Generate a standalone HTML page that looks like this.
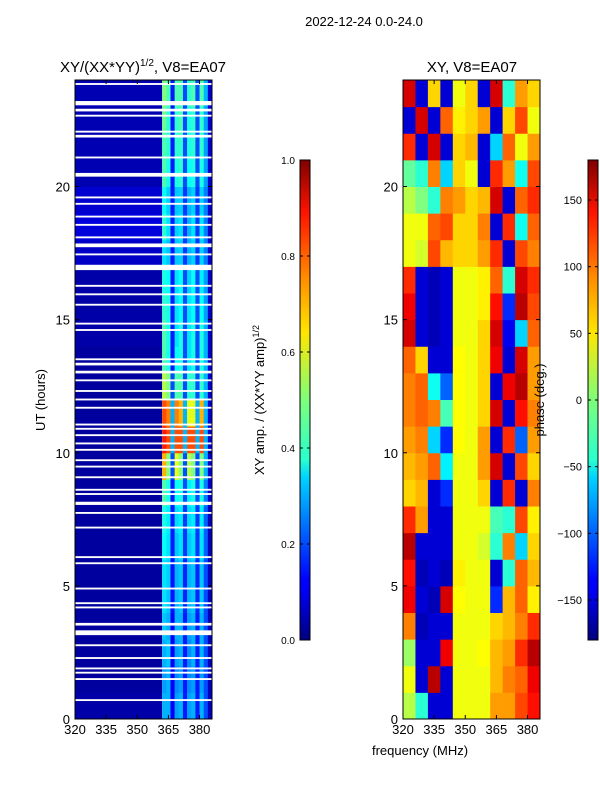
<!DOCTYPE html>
<html><head><meta charset="utf-8">
<style>
body{margin:0;background:#fff;}
svg text{font-family:"Liberation Sans",sans-serif;}
</style></head>
<body>
<svg id="fig" width="600" height="800" viewBox="0 0 600 800" xmlns="http://www.w3.org/2000/svg">
<defs>
<linearGradient id="jet" x1="0" y1="1" x2="0" y2="0">
<stop offset="0" stop-color="#00007f"/><stop offset="0.11" stop-color="#0000ff"/>
<stop offset="0.125" stop-color="#0000ff"/><stop offset="0.34" stop-color="#00d4ff"/>
<stop offset="0.375" stop-color="#29ffce"/><stop offset="0.5" stop-color="#7dff7a"/>
<stop offset="0.64" stop-color="#ffe600"/><stop offset="0.75" stop-color="#ff9000"/>
<stop offset="0.89" stop-color="#ff1300"/><stop offset="1" stop-color="#7f0000"/>
</linearGradient>
</defs>
<text x="364" y="26" font-size="13" text-anchor="middle">2022-12-24 0.0-24.0</text>
<text x="143" y="72" font-size="15" text-anchor="middle">XY/(XX*YY)<tspan font-size="10" dy="-6">1/2</tspan><tspan dy="6">, V8=EA07</tspan></text>
<text x="472" y="72" font-size="15" text-anchor="middle">XY, V8=EA07</text>
<g id="ampPanel"></g>
<g id="phPanel"></g>
<g id="axes"></g>
<text transform="translate(45,400) rotate(-90)" font-size="13" text-anchor="middle">UT (hours)</text>
<text x="420" y="755" font-size="13" text-anchor="middle">frequency (MHz)</text>
<rect x="300" y="160" width="10" height="480" fill="url(#jet)" stroke="#000" stroke-width="1"/>
<rect x="588" y="160" width="10" height="480" fill="url(#jet)" stroke="#000" stroke-width="1"/>
<text transform="translate(264,400) rotate(-90)" font-size="13" text-anchor="middle">XY amp. / (XX*YY amp)<tspan font-size="9" dy="-5">1/2</tspan></text>
<text transform="translate(544,400) rotate(-90)" font-size="13" text-anchor="middle">phase (deg.)</text>
<g id="cbticks"></g>
</svg>
<script>
const ampStripeFreqs=[362,364,366,368,370,372,374,376,378,380,382,384];
const ampBackground=[0.04,0.03,0.03,0.03,0.03,0.03,0.03,0.03,0.03,0.03,0.03,0.03,0.03,0.03,0.04,0.04,0.04,0.07,0.09,0.08,0.05,0.05,0.05,0.05];
const ampStripes=[
[0.3,0.3,0.12,0.28,0.3,0.15,0.28,0.3,0.15,0.3,0.2,0.06],
[0.28,0.3,0.12,0.26,0.28,0.15,0.26,0.28,0.15,0.28,0.2,0.06],
[0.3,0.32,0.12,0.28,0.3,0.15,0.26,0.3,0.15,0.3,0.2,0.06],
[0.32,0.3,0.12,0.3,0.3,0.15,0.28,0.3,0.15,0.3,0.2,0.06],
[0.35,0.32,0.14,0.3,0.32,0.16,0.3,0.32,0.16,0.32,0.2,0.06],
[0.35,0.33,0.14,0.3,0.32,0.16,0.3,0.32,0.16,0.32,0.2,0.06],
[0.38,0.35,0.15,0.32,0.35,0.18,0.32,0.35,0.18,0.35,0.22,0.06],
[0.4,0.36,0.15,0.34,0.36,0.18,0.34,0.36,0.18,0.36,0.22,0.06],
[0.45,0.4,0.15,0.38,0.4,0.2,0.36,0.4,0.2,0.4,0.25,0.08],
[0.7,0.5,0.2,0.6,0.5,0.2,0.55,0.5,0.2,0.5,0.3,0.08],
[0.85,0.8,0.3,0.8,0.8,0.3,0.8,0.8,0.3,0.8,0.3,0.08],
[0.8,0.75,0.3,0.75,0.7,0.3,0.6,0.6,0.3,0.7,0.3,0.08],
[0.55,0.5,0.2,0.45,0.45,0.2,0.42,0.42,0.2,0.42,0.3,0.08],
[0.45,0.4,0.15,0.38,0.4,0.2,0.35,0.4,0.2,0.4,0.3,0.08],
[0.45,0.4,0.15,0.35,0.4,0.2,0.35,0.4,0.2,0.4,0.3,0.08],
[0.42,0.4,0.15,0.35,0.38,0.2,0.35,0.38,0.2,0.38,0.28,0.08],
[0.4,0.38,0.15,0.35,0.38,0.2,0.33,0.38,0.2,0.36,0.28,0.08],
[0.35,0.32,0.15,0.32,0.33,0.18,0.3,0.33,0.18,0.33,0.25,0.08],
[0.42,0.35,0.15,0.33,0.35,0.18,0.3,0.35,0.18,0.35,0.25,0.08],
[0.38,0.33,0.15,0.32,0.33,0.18,0.3,0.33,0.18,0.33,0.25,0.08],
[0.45,0.4,0.15,0.4,0.42,0.2,0.38,0.4,0.2,0.4,0.28,0.08],
[0.45,0.42,0.15,0.42,0.42,0.2,0.4,0.42,0.2,0.42,0.28,0.08],
[0.48,0.42,0.15,0.42,0.45,0.2,0.4,0.42,0.2,0.42,0.28,0.08],
[0.5,0.45,0.15,0.45,0.45,0.2,0.42,0.45,0.2,0.45,0.3,0.08]];
const phaseFreqs=[320,326,332,338,344,350,356,362,368,374,380];
const phaseGrid=[
[20,-30,-150,-150,40,40,40,80,80,110,130],
[40,-150,160,-150,40,40,40,70,90,100,140],
[10,-150,-150,140,40,40,45,70,80,120,160],
[90,-160,-150,-150,40,40,40,60,70,90,120],
[140,-150,-160,150,45,40,40,-120,70,100,50],
[130,-160,-150,-160,50,40,40,-150,-30,100,70],
[160,-150,-150,-150,40,40,30,-30,90,-60,60],
[120,80,-150,-150,40,40,40,-20,-30,110,50],
[60,70,-150,-120,40,40,60,-150,120,-150,90],
[70,80,100,-50,40,40,80,150,-150,110,60],
[80,90,-60,-120,45,40,80,-150,120,-100,80],
[90,100,90,-20,45,40,60,150,-150,130,90],
[90,100,-40,-100,45,40,60,-150,140,160,80],
[100,60,-150,-150,45,40,60,140,-150,150,80],
[150,-150,-160,-150,40,40,60,150,-140,-60,100],
[140,-150,-160,-150,40,40,50,130,-120,160,110],
[120,-150,-160,-150,40,40,50,100,-30,150,120],
[40,30,110,70,60,60,80,120,-150,110,90],
[40,40,100,110,60,60,90,-150,120,-40,100],
[20,0,-30,90,80,60,70,150,-150,100,120],
[-10,-30,90,-60,60,40,-150,120,80,-40,110],
[120,-150,150,-150,60,70,-150,-60,100,40,80],
[-150,150,-150,100,50,60,80,-150,60,110,40],
[150,-150,60,-150,40,60,-150,150,-30,80,60]];
const flagTimes=[23.85,23.13,22.87,22.66,22.06,21.89,21.09,20.44,19.59,19.35,18.87,18.56,18.09,17.79,17.45,16.96,16.27,15.95,15.56,14.85,14.61,13.51,13.33,13.03,12.72,12.32,12.0,11.69,11.06,10.9,10.66,10.35,10.11,9.72,9.48,9.08,8.61,8.45,8.1,7.74,7.19,6.08,5.85,4.9,4.35,4.19,3.56,3.24,2.77,2.29,1.9,1.74,1.5,0.71];
const flagWidths=[0.07,0.16,0.1,0.07,0.07,0.1,0.07,0.14,0.07,0.07,0.07,0.07,0.07,0.14,0.07,0.2,0.07,0.07,0.07,0.07,0.07,0.07,0.1,0.1,0.07,0.07,0.07,0.07,0.07,0.07,0.07,0.07,0.07,0.07,0.07,0.07,0.07,0.07,0.12,0.07,0.07,0.07,0.07,0.07,0.07,0.07,0.1,0.18,0.07,0.07,0.07,0.07,0.07,0.07];
const xTicks=[320,335,350,365,380];
const yTicks=[0,5,10,15,20];
const ampTicks=[0.0,0.2,0.4,0.6,0.8,1.0];
const phaseTicks=[-150,-100,-50,0,50,100,150];

const NS="http://www.w3.org/2000/svg";
const F0=320,F1=386,T0=0,T1=24,Y0=719,Y1=80;
function yScale(t){return Y0-(t-T0)/(T1-T0)*(Y0-Y1);}
function xScaleL(f){return 75+(f-F0)/(F1-F0)*137;}
function xScaleR(f){return 403+(f-F0)/(F1-F0)*137;}
function jet(v){v=Math.max(0,Math.min(1,v));
 const r=Math.min(4*v-1.5,-4*v+4.5),g=Math.min(4*v-0.5,-4*v+3.5),b=Math.min(4*v+0.5,-4*v+2.5);
 const c=x=>Math.round(255*Math.max(0,Math.min(1,x)));
 return `rgb(${c(r)},${c(g)},${c(b)})`;}
function mk(tag,attrs,parent){const e=document.createElementNS(NS,tag);for(const k in attrs)e.setAttribute(k,attrs[k]);parent.appendChild(e);return e;}
const ampG=document.getElementById('ampPanel'),phG=document.getElementById('phPanel'),ax=document.getElementById('axes'),cb=document.getElementById('cbticks');
for(let i=0;i<ampBackground.length;i++){
 const ya=yScale(i+1),yb=yScale(i);
 let r=mk('rect',{x:xScaleL(F0),y:ya,width:xScaleL(ampStripeFreqs[0])-xScaleL(F0),height:yb-ya+0.5,fill:jet(ampBackground[i])},ampG);
 
 
 for(let j=0;j<ampStripeFreqs.length;j++){
  const f0=ampStripeFreqs[j],f1=j+1<ampStripeFreqs.length?ampStripeFreqs[j+1]:F1;
  const c=mk('rect',{x:xScaleL(f0),y:ya,width:xScaleL(f1)-xScaleL(f0)+0.3,height:yb-ya+0.5,fill:jet(ampStripes[i][j])},ampG);
  
  
 }
 for(let j=0;j<phaseFreqs.length;j++){
  const f0=phaseFreqs[j],f1=j+1<phaseFreqs.length?phaseFreqs[j+1]:F1;
  const c=mk('rect',{x:xScaleR(f0),y:ya,width:xScaleR(f1)-xScaleR(f0)+0.3,height:yb-ya+0.5,fill:jet((phaseGrid[i][j]+180)/360)},phG);
  
  
 }
}
for(let k=0;k<flagTimes.length;k++){
 const ya=yScale(flagTimes[k]+flagWidths[k]/2),h=flagWidths[k]*(Y0-Y1)/24;
 for(const xs of [xScaleL,xScaleR]){
  const r=mk('rect',{x:xs(F0),y:ya,width:137,height:h,fill:'#fff'},ampG);
  
  
 }
}
for(const x0 of [75,403]){
 const fr=mk('rect',{x:x0,y:Y1,width:137,height:Y0-Y1,fill:'none',stroke:'#000','stroke-width':1},ax);
 
 
}
for(const xs of [xScaleL,xScaleR]){
 for(const f of xTicks){const x=xs(f);
  mk('line',{x1:x,y1:Y0,x2:x,y2:Y0-4,stroke:'#000'},ax);mk('line',{x1:x,y1:Y1,x2:x,y2:Y1+4,stroke:'#000'},ax);
  const t=mk('text',{x:x,y:Y0+15,'font-size':13,'text-anchor':'middle'},ax);t.textContent=f;
  
  }
 for(const v of yTicks){const y=yScale(v),xl=xs(F0),xr=xs(F1);
  mk('line',{x1:xl,y1:y,x2:xl+4,y2:y,stroke:'#000'},ax);mk('line',{x1:xr,y1:y,x2:xr-4,y2:y,stroke:'#000'},ax);
  const t=mk('text',{x:xl-5,y:y+5,'font-size':13,'text-anchor':'end'},ax);t.textContent=v;
  
  }
}
for(const v of ampTicks){const y=640-v*480;
 mk('line',{x1:300,y1:y,x2:303,y2:y,stroke:'#000'},cb);mk('line',{x1:310,y1:y,x2:307,y2:y,stroke:'#000'},cb);
 const t=mk('text',{x:295,y:y+4,'font-size':10,'text-anchor':'end'},cb);t.textContent=v.toFixed(1);
 
 }
for(const v of phaseTicks){const y=400-v*480/360;
 mk('line',{x1:588,y1:y,x2:591,y2:y,stroke:'#000'},cb);mk('line',{x1:598,y1:y,x2:595,y2:y,stroke:'#000'},cb);
 const t=mk('text',{x:582,y:y+4,'font-size':11,'text-anchor':'end'},cb);t.textContent=v<0?'\u2212'+(-v):v;
 
 }
</script>
</body></html>
